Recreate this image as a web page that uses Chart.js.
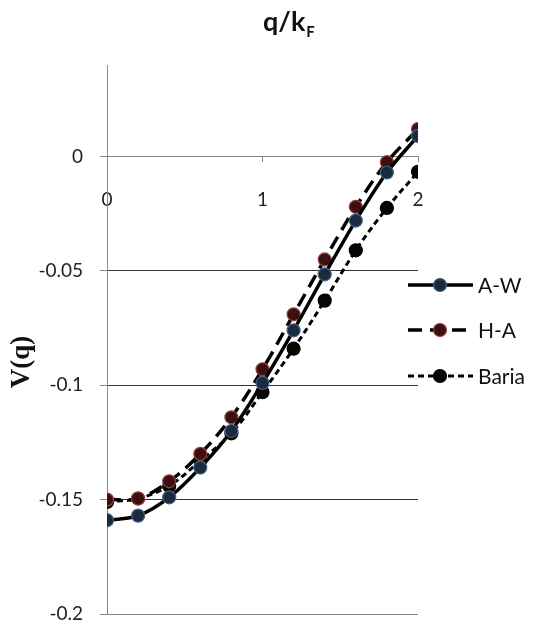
<!DOCTYPE html>
<html>
<head>
<meta charset="utf-8">
<script src="https://cdn.jsdelivr.net/npm/chart.js@4.4.0/dist/chart.umd.min.js"></script>
<style>
  body { margin: 0; background: #fff; }
</style>
</head>
<body>
<canvas id="chart" width="535" height="630"></canvas>
<script>
// ===== datos =====
const qValues = [0, 0.2, 0.4, 0.6, 0.8, 1.0, 1.2, 1.4, 1.6, 1.8, 2.0];
const vAW     = [-0.159, -0.157, -0.149, -0.136, -0.120, -0.099, -0.076, -0.0515, -0.028, -0.007, 0.009];
const vHA     = [-0.150, -0.1495, -0.142, -0.130, -0.114, -0.093, -0.069, -0.045, -0.022, -0.0025, 0.012];
const vBaria  = [-0.151, -0.1495, -0.144, -0.133, -0.121, -0.103, -0.084, -0.063, -0.041, -0.0225, -0.0067];
const xTicks  = [0, 1, 2];
const yTicks  = [0, -0.05, -0.1, -0.15, -0.2];
const seriesNames = ['A-W', 'H-A', 'Baria'];

// estilo de cada serie (linea + marcador)
const STYLES = [
    { dash: [],      width: 3.5, fill: '#1b2b3e', edge: '#3f6283' },
    { dash: [14, 8], width: 3.5, fill: '#3c1010', edge: '#93433f' },
    { dash: [6, 4],  width: 3,   fill: '#050505', edge: '#000000' }
];
const SERIES_VALUES = [vAW, vHA, vBaria];

const FONT = 'Lato, "Open Sans", sans-serif';
const SERIF = '"Liberation Serif", "Times New Roman", "DejaVu Serif", serif';

const datasets = seriesNames.map((name, i) => ({
    label: name,
    data: qValues.map((q, j) => ({ x: q, y: SERIES_VALUES[i][j] })),
    borderColor: '#000',
    borderWidth: STYLES[i].width,
    borderDash: STYLES[i].dash,
    tension: 0.35,
    pointRadius: 6.5,
    pointHoverRadius: 6.5,
    pointBorderWidth: 1.2,
    pointBackgroundColor: STYLES[i].fill,
    pointBorderColor: STYLES[i].edge,
    fill: false
}));

// titulos y leyenda dibujados a mano (posiciones como en la figura)
const extras = {
    id: 'extras',
    afterDraw(chart) {
        const ctx = chart.ctx;
        ctx.save();
        ctx.fillStyle = '#111';

        // titulo del eje x: q/k_F
        ctx.textBaseline = 'alphabetic';
        ctx.textAlign = 'left';
        ctx.font = 'bold 27px ' + FONT;
        ctx.fillText('q/k', 263, 31);
        const w = ctx.measureText('q/k').width;
        ctx.font = 'bold 15px ' + FONT;
        ctx.fillText('F', 263 + w + 1, 37);

        // titulo del eje y: V(q)
        ctx.save();
        ctx.translate(29, 362);
        ctx.rotate(-Math.PI / 2);
        ctx.textAlign = 'center';
        ctx.textBaseline = 'alphabetic';
        ctx.font = 'bold 27px ' + SERIF;
        ctx.fillText('V(q)', 0, 0);
        ctx.restore();

        // leyenda
        const rows = [285, 330, 376];
        seriesNames.forEach((name, i) => {
            const y = rows[i];
            ctx.strokeStyle = '#000';
            ctx.lineWidth = STYLES[i].width;
            ctx.setLineDash(STYLES[i].dash);
            ctx.beginPath();
            ctx.moveTo(408, y);
            ctx.lineTo(473, y);
            ctx.stroke();
            ctx.setLineDash([]);
            ctx.beginPath();
            ctx.arc(440, y, 6.5, 0, Math.PI * 2);
            ctx.fillStyle = STYLES[i].fill;
            ctx.fill();
            ctx.lineWidth = 1.2;
            ctx.strokeStyle = STYLES[i].edge;
            ctx.stroke();
            ctx.fillStyle = '#111';
            ctx.font = '21px ' + FONT;
            ctx.textBaseline = 'middle';
            ctx.textAlign = 'left';
            ctx.fillText(name, 478, y + 1);
        });
        ctx.restore();
    }
};

new Chart(document.getElementById('chart'), {
    type: 'line',
    data: { datasets: datasets },
    options: {
        responsive: false,
        animation: false,
        layout: { padding: { top: 65, right: 117, bottom: 16, left: 0 } },
        plugins: { legend: { display: false }, tooltip: { enabled: false } },
        scales: {
            x: {
                type: 'linear',
                position: { y: 0 },
                min: 0, max: 2,
                afterFit: s => { s.height = 0; s.paddingTop = 0; s.paddingBottom = 0; },
                afterBuildTicks: s => { s.ticks = xTicks.map(v => ({ value: v })); },
                grid: { drawOnChartArea: false, drawTicks: true, tickLength: 5, tickColor: '#888' },
                border: { color: '#888', width: 1 },
                ticks: { padding: 27, color: '#222', font: { family: FONT, size: 19 }, maxRotation: 0, autoSkip: false }
            },
            y: {
                type: 'linear',
                min: -0.2, max: 0.04,
                afterFit: s => { s.width = 107; s.paddingTop = 0; s.paddingBottom = 0; },
                afterBuildTicks: s => { s.ticks = yTicks.map(v => ({ value: v })); },
                grid: {
                    color: c => c.tick && c.tick.value === 0 ? 'rgba(0,0,0,0)' : (c.tick && c.tick.value === -0.2 ? '#888' : '#333'),
                    tickColor: '#888',
                    tickLength: 7
                },
                border: { color: '#888', width: 1 },
                ticks: { padding: 17, color: '#222', font: { family: FONT, size: 19 }, callback: v => String(v) }
            }
        }
    },
    plugins: [extras]
});
</script>
</body>
</html>
